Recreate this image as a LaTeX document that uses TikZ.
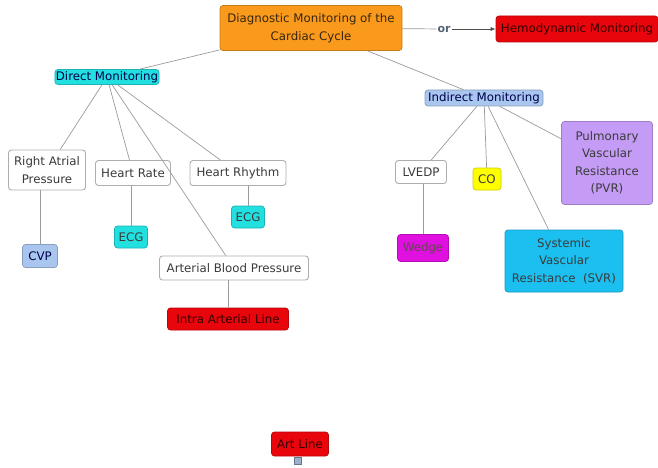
\documentclass[tikz,border=0pt]{standalone}
\usepackage{fontspec}
\setmainfont{DejaVu Sans}
\usetikzlibrary{arrows.meta}
\definecolor{cmorange}{HTML}{F99A1C}
\definecolor{cmred}{HTML}{E8060C}
\definecolor{cmcyan}{HTML}{22E0E0}
\definecolor{cmlblue}{HTML}{A9C6EE}
\definecolor{cmgrey}{HTML}{9A9A9A}
\definecolor{cmyellow}{HTML}{FFFF00}
\definecolor{cmpurple}{HTML}{C49CF6}
\definecolor{cmmagenta}{HTML}{E010E0}
\definecolor{cmsky}{HTML}{1CC0F0}
\definecolor{cmtext}{HTML}{3A3A3A}
\tikzset{
  concept/.style={rounded corners=3pt, draw=#1!80!black, line width=0.7pt, fill=#1,
    font=\fontsize{11.8}{17.5}\selectfont, text=cmtext, align=center, inner sep=2pt},
  plain/.style={rounded corners=3pt, draw=cmgrey!80, line width=0.9pt, fill=white,
    font=\fontsize{11.8}{17.5}\selectfont, text=cmtext, align=center, inner sep=2pt},
  link/.style={draw=cmgrey, line width=0.7pt},
}
\begin{document}
\begin{tikzpicture}[x=1pt,y=-1pt]
\useasboundingbox (0,0) rectangle (658,468);

% concepts
\node[concept=cmorange, minimum width=182pt, minimum height=45pt, text=black!70!brown] (cycle) at (311,28) {Diagnostic Monitoring of the\\Cardiac Cycle};
\node[concept=cmred, minimum width=162pt, minimum height=26pt, inner sep=1pt, text=black!80!red] (hemo) at (577,29) {Hemodynamic Monitoring};
\node[concept=cmcyan, minimum width=104pt, minimum height=15pt, inner sep=1pt, text=black!70!blue] (direct) at (107,77) {Direct Monitoring};
\node[concept=cmlblue, minimum width=118pt, minimum height=16pt, inner sep=1pt, text=black!70!blue] (indirect) at (484,98) {Indirect Monitoring};

\node[plain, minimum width=77pt, minimum height=40pt] (rap) at (47,170) {Right Atrial\\Pressure};
\node[plain, minimum width=75pt, minimum height=25pt] (hr) at (133,173) {Heart Rate};
\node[plain, minimum width=96pt, minimum height=25pt] (rhythm) at (238,173) {Heart Rhythm};
\node[plain, minimum width=149pt, minimum height=24pt] (abp) at (234,268) {Arterial Blood Pressure};
\node[plain, minimum width=51pt, minimum height=23pt] (lvedp) at (421,172) {LVEDP};

\node[concept=cmcyan, minimum width=33pt, minimum height=22pt] (ecga) at (131,237) {ECG};
\node[concept=cmcyan, minimum width=33pt, minimum height=22pt] (ecgb) at (248,217) {ECG};
\node[concept=cmlblue, minimum width=35pt, minimum height=23pt, text=black!70!blue] (cvp) at (40,256) {CVP};
\node[concept=cmred, minimum width=121pt, minimum height=22pt, text=black!80!red] (intra) at (228,319) {Intra Arterial Line};
\node[concept=cmyellow, minimum width=28pt, minimum height=22pt] (co) at (487,179) {CO};
\node[concept=cmpurple, minimum width=91pt, minimum height=83pt] (pvr) at (607,163) {Pulmonary\\Vascular\\Resistance\\(PVR)};
\node[concept=cmmagenta, minimum width=51pt, minimum height=27pt, text=black!70!magenta] (wedge) at (423,248) {Wedge};
\node[concept=cmsky, minimum width=118pt, minimum height=62pt] (svr) at (564,261) {Systemic\\Vascular\\Resistance\ \ (SVR)};
\node[concept=cmred, minimum width=57pt, minimum height=24pt, text=black!80!red] (art) at (300,444) {Art Line};

% resource icon below the Art Line concept
\node[draw=cmlblue!60!black, fill=cmlblue!70!gray, minimum width=7pt, minimum height=7pt, inner sep=0pt] (icon) at (298,461) {};

% linking phrase
\node[font=\fontsize{11}{13}\selectfont\bfseries, text=cmlblue!50!black, fill=white, inner sep=1pt] (or) at (444,29) {or};

% connectors
\draw[link] (cycle) -- (or);
\draw[link, -{Latex[length=5pt,width=4pt]}, draw=black!70] (or) -- (hemo);
\draw[link] (cycle) -- (direct);
\draw[link] (cycle) -- (indirect);

\draw[link] (direct) -- (rap);
\draw[link] (direct) -- (hr);
\draw[link] (direct) -- (abp);
\draw[link] (direct) -- (rhythm);

\draw[link] (rap.south -| cvp) -- (cvp);
\draw[link] (hr.south -| ecga) -- (ecga);
\draw[link] (rhythm.south -| ecgb) -- (ecgb);
\draw[link] (abp.south -| intra) -- (intra);

\draw[link] (indirect) -- (lvedp);
\draw[link] (indirect) -- (co);
\draw[link] (indirect) -- (svr);
\draw[link] (indirect) -- (pvr);
\draw[link] (lvedp.south -| wedge) -- (wedge);
\end{tikzpicture}
\end{document}
